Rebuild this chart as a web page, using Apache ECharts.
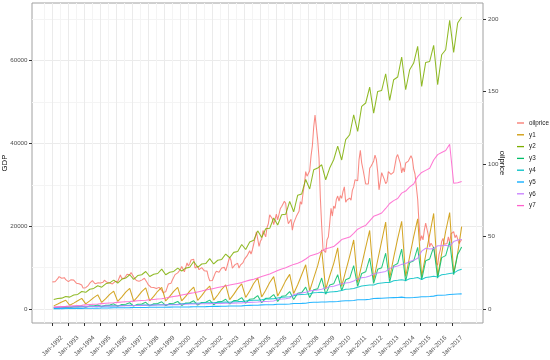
<!DOCTYPE html>
<html><head><meta charset="utf-8">
<script src="https://cdn.jsdelivr.net/npm/echarts@6/dist/echarts.min.js"></script>
<style>html,body{margin:0;padding:0;background:#fff}#c{width:550px;height:360px}</style>
</head><body><div id="c"></div>
<script>
// ---- data ----
const seriesNames = ['oilprice','y1','y2','y3','y4','y5','y6','y7'];
const seriesColors = ['#F8766D','#CD9600','#7CAE00','#00BE67','#00BFC4','#00A9FF','#C77CFF','#FF61CC'];
const xTickLabels = ['Jan-1992','Jan-1993','Jan-1994','Jan-1995','Jan-1996','Jan-1997','Jan-1998','Jan-1999','Jan-2000','Jan-2001','Jan-2002','Jan-2003','Jan-2004','Jan-2005','Jan-2006','Jan-2007','Jan-2008','Jan-2009','Jan-2010','Jan-2011','Jan-2012','Jan-2013','Jan-2014','Jan-2015','Jan-2016','Jan-2017'];
const xTickMonths = [0,12,24,36,48,60,72,84,96,108,120,132,144,156,168,180,192,204,216,228,240,252,264,276,288,300];
const xMinorMonths = [-6,6,18,30,42,54,66,78,90,102,114,126,138,150,162,174,186,198,210,222,234,246,258,270,282,294,306,318];
const gdpTicks = [0,20000,40000,60000];
const gdpMinorTicks = [10000,30000,50000,70000];
const oilTicks = [0,50,100,150,200];

// monthly oil price, Jan 1992 .. Aug 2017
const oilprice = [
18.8,19.0,18.9,20.2,21.0,22.4,21.8,21.3,21.9,21.7,20.3,19.4,
19.0,20.1,20.3,20.3,20.0,19.1,17.9,18.0,17.5,18.2,16.6,14.5,
15.0,14.8,14.7,16.4,17.9,19.1,19.7,18.4,17.5,17.7,18.1,17.2,
18.0,18.6,18.5,19.9,19.7,18.5,17.3,18.0,18.2,17.4,18.0,19.0,
18.9,19.1,21.3,23.5,21.2,20.4,21.3,21.9,24.0,24.9,23.7,25.2,
25.1,22.2,21.0,19.7,20.8,19.3,19.7,20.0,19.8,21.3,20.2,18.3,
16.7,16.1,15.1,15.4,14.9,13.7,14.2,13.5,15.0,14.5,13.0,11.4,
12.5,12.0,14.7,17.3,17.7,17.9,20.1,21.3,23.8,22.7,25.0,26.1,
27.3,29.4,29.8,25.7,28.8,31.8,29.7,31.3,33.9,33.1,34.4,28.4,
29.6,29.6,27.2,27.5,28.6,27.6,26.4,27.4,26.2,22.2,19.6,19.4,
19.7,20.7,24.5,26.2,27.0,25.5,27.0,28.4,29.7,28.8,26.4,29.5,
33.0,35.8,33.5,28.2,28.1,30.7,30.8,31.6,28.3,30.3,31.1,32.1,
34.3,34.7,36.7,36.8,40.3,38.0,40.8,44.9,45.9,53.3,48.5,43.2,
46.8,48.2,54.2,53.0,49.8,56.4,59.0,65.0,65.6,62.3,58.3,59.4,
65.5,61.6,62.7,69.4,70.8,71.0,74.4,73.0,63.8,58.9,59.1,62.0,
54.5,59.3,60.4,64.0,63.5,67.5,74.1,72.4,79.9,85.8,94.8,91.7,
93.0,95.4,105.5,112.6,125.4,133.9,133.4,116.7,104.1,76.6,57.3,41.1,
41.7,39.1,47.9,49.7,59.0,69.6,64.2,71.1,69.4,75.7,78.0,74.5,
78.3,76.4,81.2,84.3,73.7,75.3,76.3,76.6,75.2,81.9,84.3,89.2,
89.2,88.6,102.9,109.5,100.9,96.3,97.3,86.3,85.5,86.3,97.2,98.6,
100.3,102.2,106.2,103.3,94.7,82.3,87.9,94.1,94.5,89.5,86.5,87.9,
94.8,95.3,92.9,92.0,94.5,95.8,104.7,106.6,106.3,100.5,93.9,97.6,
94.6,100.8,100.8,102.1,102.2,105.8,103.6,96.5,93.2,84.4,75.8,59.3,
47.2,50.6,47.8,54.5,59.3,59.8,50.9,42.9,45.5,46.2,42.4,37.2,
31.7,30.3,37.6,40.8,46.7,48.8,44.7,44.7,45.2,49.8,45.7,52.0,
52.5,53.5,49.3,51.1,48.5,45.2,46.6,48.0
];

// quarterly series, Q1 1992 .. Q3 2017 (Q1..Q4 per year)
const y1 = [
780,1220,1710,2150, 930,1450,2030,2600, 1280,1990,2790,3450, 1620,2520,3550,4330,
1870,2910,4090,5000, 1930,3000,4210,5140, 1970,3070,4310,5260, 1960,3060,4290,5240,
1990,3090,4340,5300, 2090,3260,4570,5580, 2190,3400,4780,5830, 2290,3560,5010,6110,
2820,4390,6170,7530, 2940,4580,6430,7850, 3150,4900,6880,8390, 3750,5900,8300,10700,
4420,7500,10500,14300, 4800,8000,11000,14800, 5500,9200,12800,16700, 6400,10700,14900,19000,
7000,11800,16400,21000, 7500,12500,17000,21200, 7880,12700,17500,21800, 7900,13000,18000,23100,
8000,13400,18800,23300, 8650,13500,19900
];
const y2 = [
2300,2550,2650,3050, 2900,3400,3550,4250, 4050,4800,5000,5650, 5300,6100,6350,7000,
6300,7200,7500,8300, 7200,8100,8300,9080, 7870,8400,8600,9660, 8290,8900,9100,9900,
9200,9900,10100,11500, 10100,10900,11000,12200, 10900,11800,12000,13300, 12400,13700,13900,15600,
14400,16200,16600,18900, 17300,19400,19500,22000, 20300,22800,22900,26000, 23500,27500,27800,31300,
29000,33640,34050,34850, 31230,34050,36060,39350, 36000,40900,42100,46920, 42900,48940,49760,53610,
47330,52550,52790,56820, 50380,55380,56030,60860, 52960,57790,59410,63420, 53760,59550,59800,63660,
54170,61410,62620,69700, 61970,69070,70520
];
const y3 = [
210,350,370,480, 340,570,590,770, 440,740,770,1010, 560,930,970,1270,
680,1140,1180,1540, 720,1200,1250,1640, 780,1310,1360,1780, 820,1370,1420,1860,
880,1470,1530,2000, 960,1590,1660,2170, 1050,1750,1820,2380, 1230,2050,2130,2780,
1440,2400,2500,3260, 1560,2590,2700,3520, 1870,3110,3240,4230, 2300,3840,3990,5300,
2820,4700,4890,7500, 3600,5800,6100,8300, 4500,7100,7500,10500, 5500,8600,9000,12300,
6200,9600,10000,13500, 6600,10500,11000,14500, 6730,11220,11670,14900, 7080,11660,12120,15000,
7490,12430,12920,16300, 8300,13200,15000
];
const y4 = [
400,420,430,440, 500,530,540,550, 630,670,690,700, 720,760,780,790,
820,870,890,910, 890,950,970,990, 970,1030,1050,1070, 1050,1120,1140,1160,
1270,1350,1380,1400, 1410,1500,1530,1560, 1550,1650,1680,1720, 1670,1780,1810,1850,
1950,2080,2120,2160, 2280,2430,2470,2520, 2700,2880,2930,2990, 3240,3450,3520,3590,
3690,3930,4000,4080, 3880,4130,4210,4290, 4490,4780,4870,4970, 5260,5600,5710,5820,
5800,6180,6300,6420, 6420,6830,6960,7100, 6890,7330,7470,7620, 7170,7630,7780,7930,
7780,8280,8440,8610, 8700,9300,9650
];
const y5 = [
120,120,125,135, 170,170,175,185, 220,220,225,235, 290,295,300,315,
340,345,350,365, 390,395,400,415, 440,445,450,465, 475,480,490,505,
525,530,540,555, 585,590,600,625, 660,665,675,700, 730,740,750,780,
890,905,915,950, 1020,1040,1050,1090, 1170,1180,1200,1240, 1350,1370,1390,1440,
1610,1640,1660,1710, 1740,1760,1780,1840, 1970,2000,2020,2080, 2240,2270,2290,2370,
2560,2590,2610,2700, 2750,2780,2800,2900, 2730,2760,2790,2880, 2970,3000,3040,3140,
3330,3370,3400,3510, 3580,3640,3680
];
const y6 = [
450,470,480,500, 520,540,560,580, 600,620,640,660, 690,720,740,760,
770,790,810,830, 860,890,910,940, 950,970,990,1010, 1030,1050,1070,1090,
1170,1190,1220,1250, 1270,1290,1310,1330, 1350,1370,1390,1430, 1430,1450,1470,1510,
1600,1630,1660,1700, 1810,1840,1880,1940, 2350,2420,2500,2680, 3500,3700,3900,4100,
4400,4500,4600,4800, 5100,5400,5500,5800, 6100,6300,6450,6800, 7300,7600,7700,8000,
8500,8700,8900,9100, 9800,10200,10400,10800, 11000,11500,11800,12300, 14000,14700,14500,14600,
15300,15300,15400,15200, 16300,16700,16800
];
const y7 = [
480,540,600,660, 740,820,890,950, 1030,1110,1180,1250, 1330,1410,1480,1550,
1630,1710,1780,1850, 1930,2010,2090,2160, 2250,2340,2430,2510, 2700,2900,3050,3200,
3400,3600,3800,3950, 4150,4350,4600,4800, 5000,5200,5400,5600, 5800,6000,6200,6400,
6700,7000,7200,7500, 7900,8200,8500,8900, 9300,9700,10000,10400, 10800,11100,11500,12100,
12800,13100,13400,14000, 14600,14800,15100,15900, 16800,17100,17400,18300, 19300,19800,20200,21300,
22400,22800,23200,24300, 25500,26200,26700,28000, 28500,29500,30200,32000, 33000,33500,34000,36000,
37300,37800,38300,39800, 30400,30500,30800
];
const quarterlySeries = [y1, y2, y3, y4, y5, y6, y7];

// ---- chart ----
const GDP_MIN = -3350, GDP_MAX = 73900, OIL_SCALE = 350;
const font = 'Liberation Sans, Arial, sans-serif';
const monthly = arr => arr.map((v, i) => [i, v]);
const quarterly = arr => arr.map((v, q) => [1 + 3 * q, v]);
const lineOf = (name, color, yIdx, data) => ({
  name: name, type: 'line', yAxisIndex: yIdx, data: data,
  showSymbol: false, symbol: 'none',
  lineStyle: {width: 1.05, color: color, opacity: 0.85}, itemStyle: {color: color}
});

const series = [lineOf(seriesNames[0], seriesColors[0], 1, monthly(oilprice))];
quarterlySeries.forEach((arr, k) => series.push(lineOf(seriesNames[k + 1], seriesColors[k + 1], 0, quarterly(arr))));

const chart = echarts.init(document.getElementById('c'), null, {renderer: 'canvas'});
chart.setOption({
  animation: false,
  backgroundColor: '#fff',
  grid: {left: 32, right: 67, top: 3, bottom: 37, containLabel: false, outerBoundsMode: 'none',
    show: true, borderColor: '#a0a0a0', borderWidth: 1, backgroundColor: '#fff'},
  legend: {
    orient: 'vertical', left: 517, top: 118, padding: 0, icon: 'rect',
    itemWidth: 7, itemHeight: 1.3, itemGap: 1.8,
    textStyle: {fontSize: 6.3, color: '#222', fontFamily: font, lineHeight: 10},
    data: seriesNames
  },
  xAxis: [{
    type: 'value', min: -15.3, max: 323, position: 'bottom',
    axisLine: {show: false, onZero: false},
    axisTick: {show: true, customValues: xTickMonths, length: 3, lineStyle: {color: '#333'}},
    axisLabel: {customValues: xTickMonths, rotate: 45, align: 'center', verticalAlign: 'middle', margin: 23,
      fontSize: 6.3, color: '#4D4D4D', fontFamily: font,
      formatter: v => xTickLabels[xTickMonths.indexOf(Math.round(v))] || ''},
    splitLine: {show: true, lineStyle: {color: '#EBEBEB', width: 1}}
  }, {
    type: 'value', min: -15.3, max: 323, position: 'top',
    axisLine: {show: false, onZero: false}, axisLabel: {show: false},
    axisTick: {show: false, customValues: xMinorMonths},
    splitLine: {show: true, lineStyle: {color: '#F4F4F4', width: 1}}
  }],
  yAxis: [{
    type: 'value', position: 'left', min: GDP_MIN, max: GDP_MAX,
    name: 'GDP', nameLocation: 'middle', nameGap: 23, nameRotate: 90, nameMoveOverlap: false,
    nameTextStyle: {fontSize: 7.8, color: '#111', fontFamily: font},
    axisLine: {show: false, onZero: false},
    axisTick: {show: true, customValues: gdpTicks, length: 3, lineStyle: {color: '#333'}},
    axisLabel: {customValues: gdpTicks, margin: 4.5, fontSize: 6.2, color: '#4D4D4D', fontFamily: font, formatter: v => String(v)},
    splitLine: {show: true, lineStyle: {color: '#EBEBEB', width: 1}}
  }, {
    type: 'value', position: 'right', min: GDP_MIN / OIL_SCALE, max: GDP_MAX / OIL_SCALE,
    name: 'oilprice', nameLocation: 'middle', nameGap: 15, nameRotate: -90, nameMoveOverlap: false,
    nameTextStyle: {fontSize: 7.8, color: '#111', fontFamily: font},
    axisLine: {show: false, onZero: false},
    axisTick: {show: true, customValues: oilTicks, length: 3, lineStyle: {color: '#333'}},
    axisLabel: {customValues: oilTicks, margin: 5, fontSize: 6.2, color: '#4D4D4D', fontFamily: font, formatter: v => String(v)},
    splitLine: {show: false}
  }, {
    type: 'value', position: 'left', min: GDP_MIN, max: GDP_MAX,
    axisLine: {show: false, onZero: false}, axisLabel: {show: false},
    axisTick: {show: false, customValues: gdpMinorTicks},
    splitLine: {show: true, lineStyle: {color: '#F4F4F4', width: 1}}
  }],
  series: series
});
</script>
</body></html>
